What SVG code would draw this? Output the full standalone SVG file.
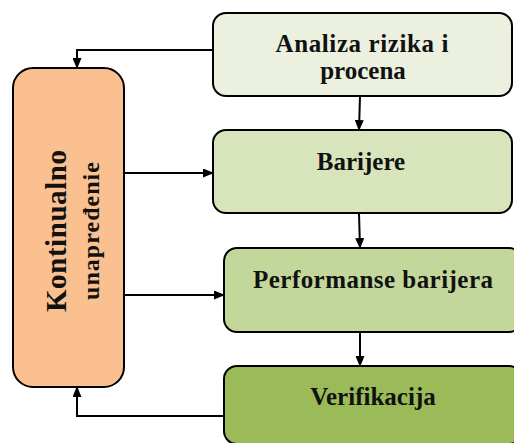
<svg xmlns="http://www.w3.org/2000/svg" width="514" height="443" viewBox="0 0 514 443">
  <style>
    .box { stroke: #000; stroke-width: 2; }
    .t { font-family: "Liberation Serif", "Times New Roman", serif; font-weight: bold; fill: #111; text-anchor: middle; }
    .c { fill: none; stroke: #000; stroke-width: 2; marker-end: url(#ah); }
  </style>
  <defs>
    <marker id="ah" markerUnits="userSpaceOnUse" markerWidth="11" markerHeight="9" refX="10" refY="4.5" orient="auto">
      <path d="M0,0 L11,4.5 L0,9 z" fill="#000"/>
    </marker>
  </defs>
  <rect width="514" height="443" fill="#fff"/>

  <g id="connectors">
    <path class="c" d="M213,50 H77 V68"/>
    <path class="c" d="M360,96 L359,130"/>
    <path class="c" d="M124,173 H213"/>
    <path class="c" d="M359,213 L360,248"/>
    <path class="c" d="M124,295 H224"/>
    <path class="c" d="M360,332 V366"/>
    <path class="c" d="M224,416 H77 V387"/>
  </g>

  <g id="kontinualno">
    <rect class="box" x="13" y="68" width="111" height="319" rx="20" fill="#FAC090"/>
    <text class="t" font-size="29" transform="translate(66,231) rotate(-90)" textLength="162" lengthAdjust="spacing">Kontinualno</text>
    <text class="t" font-size="24" transform="translate(99,231) rotate(-90)" textLength="138" lengthAdjust="spacing">unapređenie</text>
  </g>

  <g id="analiza">
    <rect class="box" x="213" y="13" width="299" height="83" rx="13" fill="#EBF1DE"/>
    <text class="t" font-size="25" x="362" y="52" textLength="173" lengthAdjust="spacing">Analiza rizika i</text>
    <text class="t" font-size="25" x="363" y="79">procena</text>
  </g>

  <g id="barijere">
    <rect class="box" x="213" y="130" width="299" height="83" rx="13" fill="#D8E4BC"/>
    <text class="t" font-size="25" x="361" y="170">Barijere</text>
  </g>

  <g id="performanse">
    <rect class="box" x="224" y="248" width="298" height="84" rx="13" fill="#C4D79B"/>
    <text class="t" font-size="25" x="373" y="288" textLength="240" lengthAdjust="spacing">Performanse barijera</text>
  </g>

  <g id="verifikacija">
    <rect class="box" x="224" y="366" width="298" height="78" rx="13" fill="#9BBB59"/>
    <text class="t" font-size="25" x="373" y="405">Verifikacija</text>
  </g>
</svg>
